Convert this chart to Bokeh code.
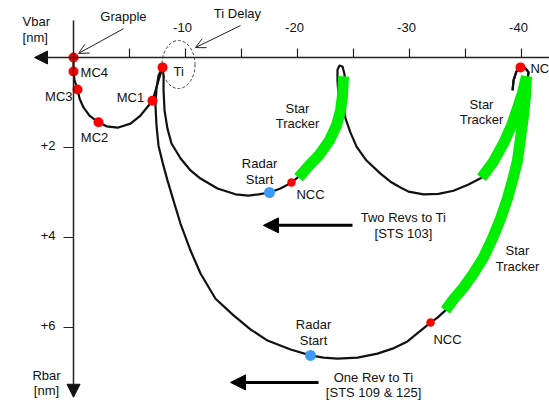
from bokeh.plotting import figure
from bokeh.models import Range1d, Arrow, NormalHead, OpenHead
from bokeh.core.properties import value
from bokeh.embed import file_html
from bokeh.resources import INLINE

# ---------------- data (Vbar [nm] negative = behind, Rbar [nm] positive = below) ----------------
x_ticks = [-5, -10, -15, -20, -25, -30, -35, -40]
x_label_vals = [-10, -20, -30, -40]
x_labels = ["-10", "-20", "-30", "-40"]
y_ticks = [2, 4, 6]
y_labels = ["+2", "+4", "+6"]

# approach: Ti -> MC1 -> MC2 -> MC3 -> MC4 -> Grapple
appr_v = [-7.95, -7.59, -7.05, -5.98, -5.09, -3.93, -2.95, -2.23, -1.43, -0.89, -0.54, -0.36, -0.09, 0.0, 0.0]
appr_r = [0.22, 0.51, 0.96, 1.29, 1.47, 1.56, 1.53, 1.44, 1.29, 1.11, 0.91, 0.71, 0.51, 0.31, 0.0]

# hook at NC
hook_v = [-39.20, -39.29, -39.55, -39.91, -40.36, -40.63, -40.54]
hook_r = [0.73, 0.51, 0.31, 0.22, 0.24, 0.33, 0.47]

# two revs to Ti
two_v = [-40.09, -39.64, -39.11, -38.39, -37.50, -36.43, -35.27, -33.93, -32.59, -31.25, -29.91, -29.20,
         -28.30, -27.41, -26.16, -25.27, -24.73, -24.29, -24.11, -24.20, -24.20, -24.02, -23.75, -23.57,
         -23.57, -23.66, -23.57, -23.21, -22.59, -21.70, -20.71, -20.00, -19.46, -18.48, -17.50, -16.52,
         -15.63, -14.46, -12.86, -11.34, -10.45, -9.55, -8.75, -8.39, -8.13, -8.04, -8.04, -7.95]
two_r = [0.78, 1.13, 1.51, 1.91, 2.31, 2.67, 2.82, 2.96, 3.03, 3.04, 2.98, 2.89,
         2.76, 2.58, 2.29, 1.98, 1.67, 1.36, 1.07, 0.73, 0.38, 0.20, 0.18, 0.27,
         0.51, 0.84, 1.18, 1.51, 1.84, 2.16, 2.44, 2.67, 2.78, 2.91, 3.00, 3.04,
         3.07, 3.04, 2.91, 2.69, 2.51, 2.24, 1.91, 1.58, 1.18, 0.73, 0.40, 0.22]

# one rev to Ti
one_v = [-40.36, -40.18, -39.91, -39.64, -39.20, -38.75, -38.13, -37.41, -36.61, -35.71, -34.82, -33.84, -33.21,
         -32.50, -31.88, -30.80, -29.82, -28.48, -27.14, -25.36, -23.57, -22.32, -21.16, -19.38, -17.32, -15.80,
         -14.29, -12.68, -11.34, -10.45, -9.55, -8.93, -8.39, -7.95, -7.59, -7.41, -7.32, -7.41, -7.59, -7.95]
one_r = [0.84, 1.29, 1.80, 2.29, 2.73, 3.13, 3.58, 4.02, 4.44, 4.80, 5.11, 5.40, 5.62,
         5.78, 5.89, 6.11, 6.31, 6.47, 6.58, 6.67, 6.69, 6.67, 6.62, 6.49, 6.29, 6.04,
         5.73, 5.36, 4.80, 4.29, 3.69, 3.18, 2.73, 2.33, 1.96, 1.51, 1.07, 0.69, 0.40, 0.22]

# star tracker segments
st1_v = [-40.45, -40.09, -39.64, -39.11, -38.39, -37.50, -36.43]
st1_r = [0.42, 0.78, 1.13, 1.51, 1.91, 2.31, 2.67]
st2_v = [-24.11, -24.02, -23.84, -23.48, -22.86, -21.96, -20.89, -20.09]
st2_r = [0.42, 0.84, 1.18, 1.51, 1.84, 2.16, 2.44, 2.67]
st3_v = [-40.45, -40.36, -40.18, -39.91, -39.64, -39.20, -38.75, -38.13, -37.41, -36.61, -35.71, -34.82, -33.84, -33.21]
st3_r = [0.42, 0.84, 1.29, 1.80, 2.29, 2.73, 3.13, 3.58, 4.02, 4.44, 4.80, 5.11, 5.40, 5.62]

# burn points
red_v = [0.0, 0.0, -0.36, -2.23, -7.05, -7.95, -39.91]
red_r = [0.0, 0.31, 0.71, 1.44, 0.96, 0.22, 0.22]
ncc_v = [-19.46, -31.88]
ncc_r = [2.78, 5.89]
radar_v = [-17.50, -21.16]
radar_r = [3.00, 6.62]

# labels
lc_text = ["Grapple", "Ti Delay", "MC2", "MC1", "Star", "Tracker", "Star", "Tracker", "Star", "Tracker",
           "Radar", "Start", "Radar", "Start", "NCC", "NCC", "Two Revs to Ti", "[STS 103]",
           "One Rev to Ti", "[STS 109 & 125]", "Rbar", "[nm]"]
lc_v = [-4.46, -14.64, -1.88, -5.09, -20.0, -20.0, -36.43, -36.43, -39.64, -39.64,
        -16.61, -16.61, -21.43, -21.43, -21.16, -33.39, -29.46, -29.46, -26.79, -26.79, 2.41, 2.41]
lc_r = [-0.91, -0.98, 1.78, 0.88, 1.13, 1.47, 1.04, 1.38, 4.29, 4.64,
        2.36, 2.71, 5.93, 6.29, 3.04, 6.27, 3.56, 3.91, 7.11, 7.44, 7.07, 7.40]
ll_text = ["MC4", "Ti", "NC", "Vbar", "[nm]"]
ll_v = [-0.63, -8.93, -40.80, 4.55, 4.55]
ll_r = [0.33, 0.31, 0.24, -0.80, -0.44]
lr_text = ["MC3"]
lr_v = [0.09]
lr_r = [0.87]

# ---------------- figure ----------------
FONT = value("Liberation Sans")
INK = "#111111"

p = figure(width=549, height=400, output_backend="svg", toolbar_location=None,
           x_range=Range1d(6.518, -42.5), y_range=Range1d(7.622, -1.2667),
           x_axis_type=None, y_axis_type=None, min_border=0)
p.outline_line_color = None
p.background_fill_color = "white"
p.border_fill_color = "white"

# Ti delay ellipse
p.ellipse(x=[-9.375], y=[0.156], width=33, height=48, width_units="screen", height_units="screen",
          fill_color=None, line_color="#444444", line_width=1, line_dash="3 2")

# axes
p.add_layout(Arrow(x_start=-42.5, y_start=0, x_end=3.48, y_end=0, line_color="#222222", line_width=1.5,
                   end=NormalHead(size=13, fill_color="#111111", line_color="#111111")))
p.add_layout(Arrow(x_start=0, y_start=-0.82, x_end=0, y_end=7.55, line_color="#222222", line_width=1.5,
                   end=NormalHead(size=13, fill_color="#111111", line_color="#111111")))
p.segment(x0=x_ticks, y0=[0] * len(x_ticks), x1=x_ticks, y1=[-0.2] * len(x_ticks),
          line_color="#222222", line_width=1.2)
p.segment(x0=[0] * len(y_ticks), y0=y_ticks, x1=[0.89] * len(y_ticks), y1=y_ticks,
          line_color="#222222", line_width=1.2)
p.text(x=x_label_vals, y=[-0.667] * len(x_label_vals), text=x_labels, x_offset=-3,
       text_font=FONT, text_font_size="13px", text_align="center", text_baseline="middle", text_color=INK)
p.text(x=[0] * len(y_ticks), y=y_ticks, text=y_labels, x_offset=-18, y_offset=-2,
       text_font=FONT, text_font_size="13px", text_align="right", text_baseline="middle", text_color=INK)

# trajectories
p.line(appr_v, appr_r, line_color=INK, line_width=2.2, line_join="round")
p.line(hook_v + two_v, hook_r + two_r, line_color=INK, line_width=2.2, line_join="round")
p.line(hook_v + one_v, hook_r + one_r, line_color=INK, line_width=2.2, line_join="round")

# star tracker
p.multi_line(xs=[st1_v, st2_v, st3_v], ys=[st1_r, st2_r, st3_r], line_color="#00ee00",
             line_width=11, line_cap="butt", line_join="round")

# points
p.scatter(red_v, red_r, size=10, fill_color="#ff0000", line_color=None)
p.scatter(ncc_v, ncc_r, size=8.5, fill_color="#ff0000", line_color=None)
p.scatter(radar_v, radar_r, size=11, fill_color="#3d9bf5", line_color=None)

# labels
p.text(x=lc_v, y=lc_r, text=lc_text, text_font=FONT, text_font_size="13px",
       text_align="center", text_baseline="middle", text_color=INK)
p.text(x=ll_v, y=ll_r, text=ll_text, text_font=FONT, text_font_size="13px",
       text_align="left", text_baseline="middle", text_color=INK)
p.text(x=lr_v, y=lr_r, text=lr_text, text_font=FONT, text_font_size="13px",
       text_align="right", text_baseline="middle", text_color=INK)

# pointer arrows
p.add_layout(Arrow(x_start=-4.46, y_start=-0.64, x_end=-0.45, y_end=-0.09, line_color="#222222", line_width=1,
                   end=OpenHead(size=10, line_width=1, line_color="#222222")))
p.add_layout(Arrow(x_start=-14.91, y_start=-0.71, x_end=-10.89, y_end=-0.22, line_color="#222222", line_width=1,
                   end=OpenHead(size=10, line_width=1, line_color="#222222")))

# direction arrows
p.add_layout(Arrow(x_start=-24.91, y_start=3.73, x_end=-16.96, y_end=3.73, line_color="#000000", line_width=3,
                   end=NormalHead(size=15, fill_color="#000000", line_color="#000000")))
p.add_layout(Arrow(x_start=-21.88, y_start=7.22, x_end=-14.02, y_end=7.22, line_color="#000000", line_width=3,
                   end=NormalHead(size=15, fill_color="#000000", line_color="#000000")))

open("out.html", "w").write(file_html(p, INLINE))
